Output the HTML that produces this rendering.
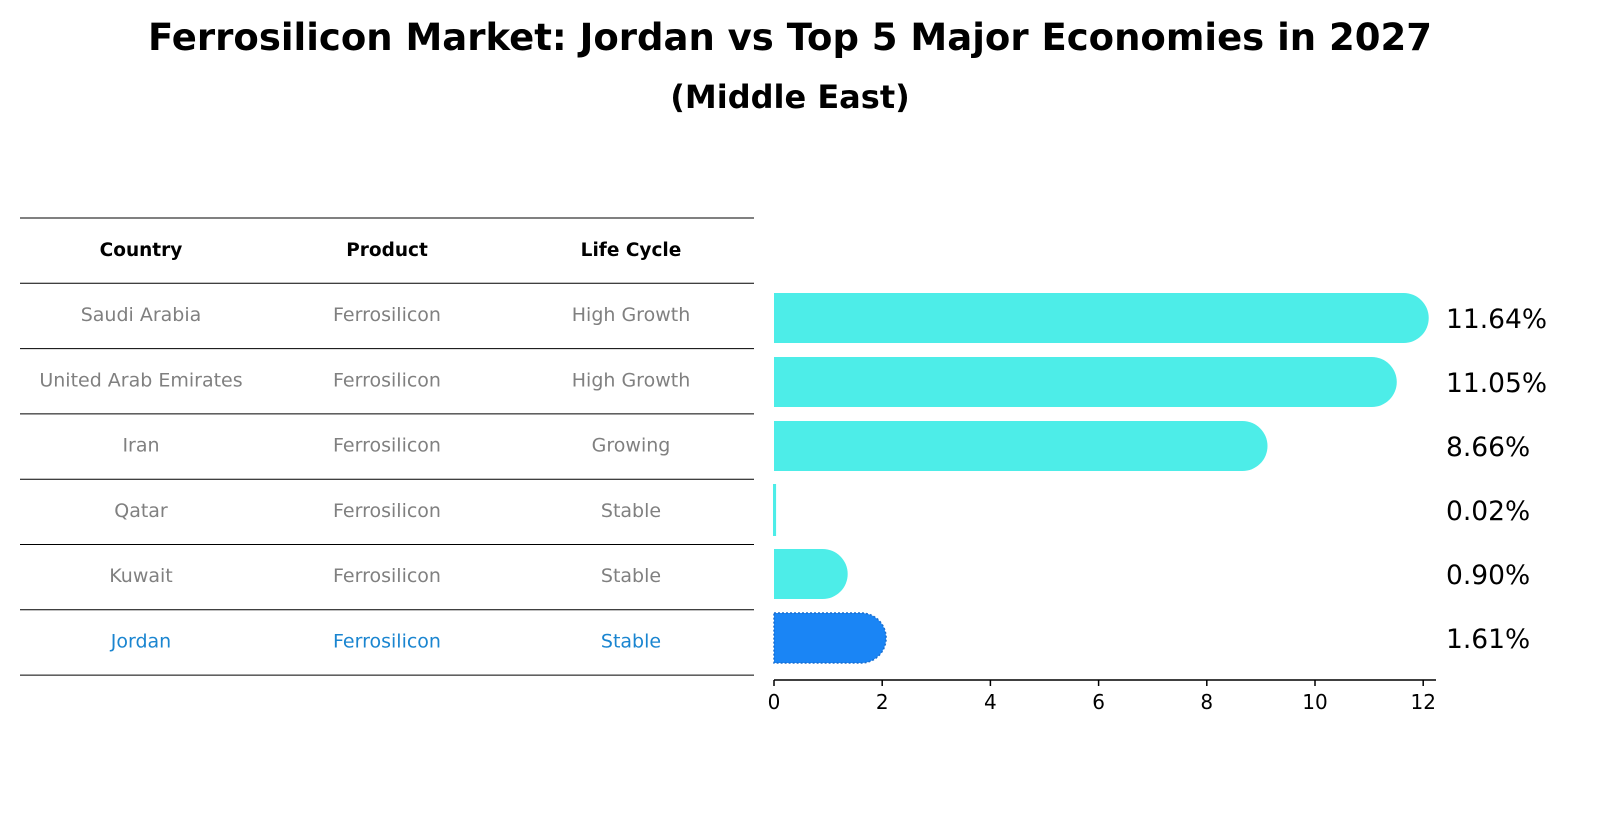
<!DOCTYPE html>
<html><head><meta charset="utf-8"><style>
body{margin:0;background:#fff;font-family:"Liberation Sans","DejaVu Sans",sans-serif;}
</style></head><body>
<svg width="1604" height="823" xmlns="http://www.w3.org/2000/svg" style="font-family:'DejaVu Sans','Liberation Sans',sans-serif">
<text x="790" y="50" text-anchor="middle" font-size="37" font-weight="bold">Ferrosilicon Market: Jordan vs Top 5 Major Economies in 2027</text>
<text x="790" y="108" text-anchor="middle" font-size="32" font-weight="bold">(Middle East)</text>
<g id="table"></g>
<g id="bars"></g>
</svg>
<script>
const countries=["Saudi Arabia","United Arab Emirates","Iran","Qatar","Kuwait","Jordan"];
const products=["Ferrosilicon","Ferrosilicon","Ferrosilicon","Ferrosilicon","Ferrosilicon","Ferrosilicon"];
const lifecycles=["High Growth","High Growth","Growing","Stable","Stable","Stable"];
const values=[11.64,11.05,8.66,0.02,0.90,1.61];
const ticks=[0,2,4,6,8,10,12];
const NS="http://www.w3.org/2000/svg";
function mk(t,a,p){const e=document.createElementNS(NS,t);for(const k in a)e.setAttribute(k,a[k]);p.appendChild(e);return e;}
const tbl=document.getElementById('table');
const colX=[141,387,631];
for(let i=0;i<8;i++){const y=218+i*65.3;const l=mk('line',{x1:20,x2:754,y1:y,y2:y,stroke:'#000','stroke-width':1},tbl);

}
["Country","Product","Life Cycle"].forEach((h,j)=>{const t=mk('text',{x:colX[j],y:256,'text-anchor':'middle','font-size':18.5,'font-weight':'bold'},tbl);t.textContent=h;

});
countries.forEach((c,i)=>{const col=c==="Jordan"?'#1a85d0':'#808080';[c,products[i],lifecycles[i]].forEach((v,j)=>{
const t=mk('text',{x:colX[j],y:321+i*65.3,'text-anchor':'middle','font-size':19,fill:col},tbl);t.textContent=v;

});});
const g=document.getElementById('bars');
const x0=774,ppu=54.1;const X=v=>x0+v*ppu;
const Y=i=>318+i*64;const h=50;
values.forEach((v,i)=>{const jor=countries[i]==="Jordan";const col=jor?'#1a85f5':'#4dede8';
const w=X(v)-x0;const r=v>0.1?h/2:0;
const d=`M${x0},${Y(i)-h/2} H${x0+w} ${r?`A${r},${r} 0 0 1 ${x0+w},${Y(i)+h/2}`:`V${Y(i)+h/2}`} H${x0} Z`;
const p=mk('path',{d:d,fill:col,stroke:jor?'#1a6fd0':'none','stroke-dasharray':jor?'2,2':'none','stroke-width':jor?1.5:0},g);
if(v<=0.1){p.setAttribute('stroke',col);p.setAttribute('stroke-width',2);}


const t=mk('text',{x:1446,y:Y(i)+10,'font-size':26.5},g);t.textContent=v.toFixed(2)+'%';

});
const ax=mk('line',{x1:x0,x2:1436,y1:680,y2:680,stroke:'#000','stroke-width':1.5},g);


ticks.forEach(tk=>{const tl=mk('line',{x1:X(tk),x2:X(tk),y1:680,y2:686,stroke:'#000','stroke-width':1.5},g);


const t=mk('text',{x:X(tk),y:709,'text-anchor':'middle','font-size':20},g);t.textContent=tk;

});
</script>
</body></html>
